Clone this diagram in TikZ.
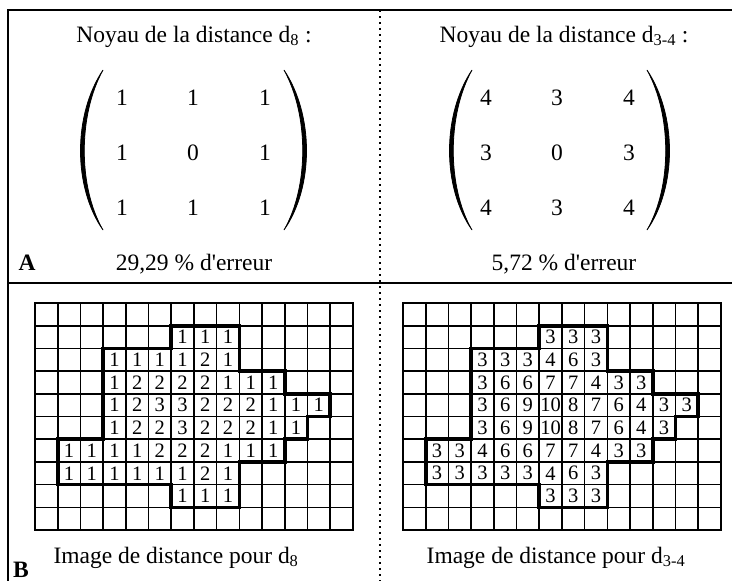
\documentclass[tikz,border=0pt]{standalone}
\usepackage{fontspec}
\setmainfont{Liberation Serif}

\begin{document}
\begin{tikzpicture}[x=1pt,y=-1pt,
  txt/.style={font=\fontsize{23.5}{28}\selectfont,inner sep=0pt,anchor=base},
  entry/.style={font=\fontsize{23.5}{28}\selectfont,inner sep=0pt},
  val/.style={font=\fontsize{20.5}{24}\selectfont,inner sep=0pt},
  frame/.style={line width=1.8pt},
  sep/.style={line width=1.6pt,dash pattern=on 1.6pt off 4.4pt},
  paren/.style={fill=black,draw=black,line width=0.8pt},
  cellline/.style={line width=1.6pt},
  gridbox/.style={line width=2.2pt},
  blob/.style={line width=3.6pt,line join=miter}]
\useasboundingbox (0,0) rectangle (732,581);

% cadre
\draw[frame] (732,10) -- (8,10) -- (8,581);
\draw[frame] (8,283) -- (732,283);
\draw[sep] (380,10) -- (380,581);

% A : noyaux
\node[txt] (titre8) at (194,42) {Noyau de la distance d\textsubscript{8} :};
\node[txt] (titre34) at (564,42) {Noyau de la distance d\textsubscript{3-4} :};
\foreach \px/\d in {103/1,284/-1,472/1,647/-1}
  \filldraw[paren] (\px,70) .. controls ({\px-30*\d},115) and ({\px-30*\d},187) .. (\px,230)
    .. controls ({\px-25*\d},187) and ({\px-25*\d},115) .. (\px,70) -- cycle;
\foreach \y/\a/\b/\c [count=\i] in {98/1/1/1,153/1/0/1,208/1/1/1}{
  \node[entry] (k8-\i-1) at (122,\y) {\a};
  \node[entry] (k8-\i-2) at (193,\y) {\b};
  \node[entry] (k8-\i-3) at (265,\y) {\c};
}
\foreach \y/\a/\b/\c [count=\i] in {98/4/3/4,153/3/0/3,208/4/3/4}{
  \node[entry] (k34-\i-1) at (486,\y) {\a};
  \node[entry] (k34-\i-2) at (557,\y) {\b};
  \node[entry] (k34-\i-3) at (629,\y) {\c};
}
\node[txt] (err8) at (194,270) {29,29 \% d\textquotesingle erreur};
\node[txt] (err34) at (564,270) {5,72 \% d\textquotesingle erreur};
\node[txt,font=\fontsize{23.5}{28}\selectfont\bfseries] (lblA) at (27,270) {A};

% B : images de distance
\foreach \gx in {35,403}{
  \begin{scope}[shift={(\gx pt,-303pt)},x=22.7pt,y=-22.7pt]
    \foreach \i in {1,...,13} \draw[cellline] (\i,0) -- (\i,10);
    \foreach \j in {1,...,9} \draw[cellline] (0,\j) -- (14,\j);
    \draw[gridbox] (0,0) rectangle (14,10);
    \draw[blob] (6,1) -- (9,1) -- (9,3) -- (11,3) -- (11,4) -- (13,4) -- (13,5)
      -- (12,5) -- (12,6) -- (11,6) -- (11,7) -- (9,7) -- (9,9) -- (6,9)
      -- (6,8) -- (1,8) -- (1,6) -- (3,6) -- (3,2) -- (6,2) -- cycle;
  \end{scope}
}
\begin{scope}[shift={(35pt,-303pt)},x=22.7pt,y=-22.7pt]
  \foreach \r/\c/\vals in {2/7/{1,1,1},3/4/{1,1,1,1,2,1},4/4/{1,2,2,2,2,1,1,1},
      5/4/{1,2,3,3,2,2,2,1,1,1},6/4/{1,2,2,3,2,2,2,1,1},7/2/{1,1,1,1,2,2,2,1,1,1},
      8/2/{1,1,1,1,1,1,2,1},9/7/{1,1,1}}
    \foreach \v [count=\k from \c] in \vals
      \node[val] (d8-\r-\k) at ({\k-0.5},{\r-0.5}) {\v};
\end{scope}
\begin{scope}[shift={(403pt,-303pt)},x=22.7pt,y=-22.7pt]
  \foreach \r/\c/\vals in {2/7/{3,3,3},3/4/{3,3,3,4,6,3},4/4/{3,6,6,7,7,4,3,3},
      5/4/{3,6,9,10,8,7,6,4,3,3},6/4/{3,6,9,10,8,7,6,4,3},7/2/{3,3,4,6,6,7,7,4,3,3},
      8/2/{3,3,3,3,3,4,6,3},9/7/{3,3,3}}
    \foreach \v [count=\k from \c] in \vals
      \node[val] (d34-\r-\k) at ({\k-0.5},{\r-0.5}) {\v};
\end{scope}
\node[txt] (cap8) at (176,563) {Image de distance pour d\textsubscript{8}};
\node[txt] (cap34) at (556,563) {Image de distance pour d\textsubscript{3-4}};
\node[txt,font=\fontsize{23.5}{28}\selectfont\bfseries] (lblB) at (21,577) {B};
\end{tikzpicture}
\end{document}
